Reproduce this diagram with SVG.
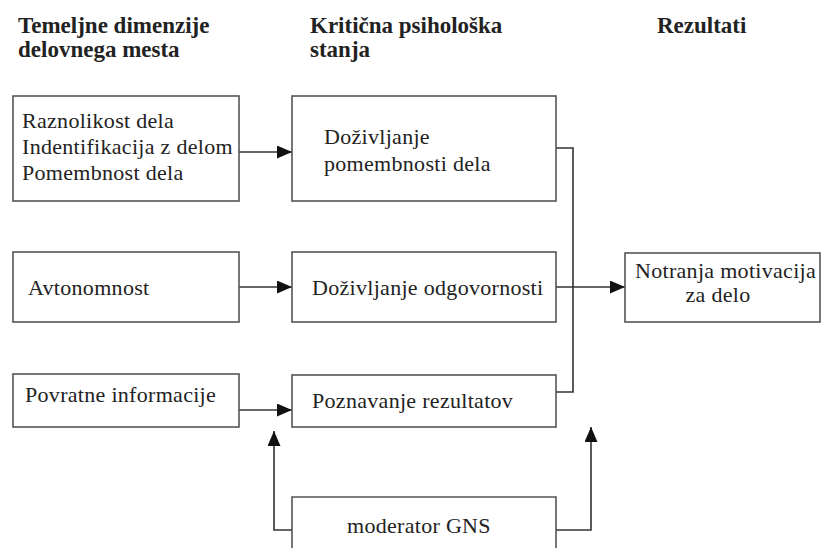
<svg xmlns="http://www.w3.org/2000/svg" width="826" height="548" viewBox="0 0 826 548">
<style>
.box{fill:#fff;stroke:#555;stroke-width:1.6}
.t{font-size:22px;fill:#222;letter-spacing:0.3px}
.h{font-size:23px;font-weight:bold;fill:#222}
.c{fill:none;stroke:#333;stroke-width:1.6}
</style>
<defs>
<marker id="ah" markerUnits="userSpaceOnUse" markerWidth="15" markerHeight="13" refX="15" refY="6.5" orient="auto">
<path d="M0,0 L15,6.5 L0,13 z" fill="#111"/>
</marker>
</defs>
<rect width="826" height="548" fill="#fff"/>
<g font-family="Liberation Serif, Times New Roman, serif">
<g id="headers">
<text class="h" x="18" y="33">Temeljne dimenzije</text>
<text class="h" x="18" y="57">delovnega mesta</text>
<text class="h" x="310" y="33">Kritična psihološka</text>
<text class="h" x="310" y="57">stanja</text>
<text class="h" x="657" y="33">Rezultati</text>
</g>
<g id="connectors">
<line class="c" x1="239" y1="152" x2="292" y2="152" marker-end="url(#ah)"/>
<line class="c" x1="239" y1="287" x2="292" y2="287" marker-end="url(#ah)"/>
<line class="c" x1="239" y1="410" x2="292" y2="410" marker-end="url(#ah)"/>
<polyline class="c" points="556,148 573,148 573,392 556,392"/>
<line class="c" x1="556" y1="287" x2="625" y2="287" marker-end="url(#ah)"/>
<polyline class="c" points="292,530 274,530 274,431" marker-end="url(#ah)"/>
<polyline class="c" points="556,530 591,530 591,427" marker-end="url(#ah)"/>
</g>
<g id="n-dim1">
<rect class="box" x="13" y="96" width="226" height="105"/>
<text class="t" x="22" y="128">Raznolikost dela</text>
<text class="t" x="22" y="154">Indentifikacija z delom</text>
<text class="t" x="22" y="180">Pomembnost dela</text>
</g>
<g id="n-dim2">
<rect class="box" x="13" y="252" width="226" height="70"/>
<text class="t" x="28" y="295">Avtonomnost</text>
</g>
<g id="n-dim3">
<rect class="box" x="13" y="374" width="226" height="53"/>
<text class="t" x="25" y="402">Povratne informacije</text>
</g>
<g id="n-state1">
<rect class="box" x="292" y="96" width="264" height="105"/>
<text class="t" x="324" y="144">Doživljanje</text>
<text class="t" x="324" y="171">pomembnosti dela</text>
</g>
<g id="n-state2">
<rect class="box" x="292" y="252" width="264" height="70"/>
<text class="t" x="312" y="295">Doživljanje odgovornosti</text>
</g>
<g id="n-state3">
<rect class="box" x="292" y="375" width="264" height="52"/>
<text class="t" x="312" y="408">Poznavanje rezultatov</text>
</g>
<g id="n-result">
<rect class="box" x="625" y="253" width="195" height="69"/>
<text class="t" x="635" y="278">Notranja motivacija</text>
<text class="t" x="718" y="302" text-anchor="middle">za delo</text>
</g>
<g id="n-moderator">
<path class="box" d="M292,552 V497 H556 V552"/>
<text class="t" x="347" y="533">moderator GNS</text>
</g>
</g>
</svg>
